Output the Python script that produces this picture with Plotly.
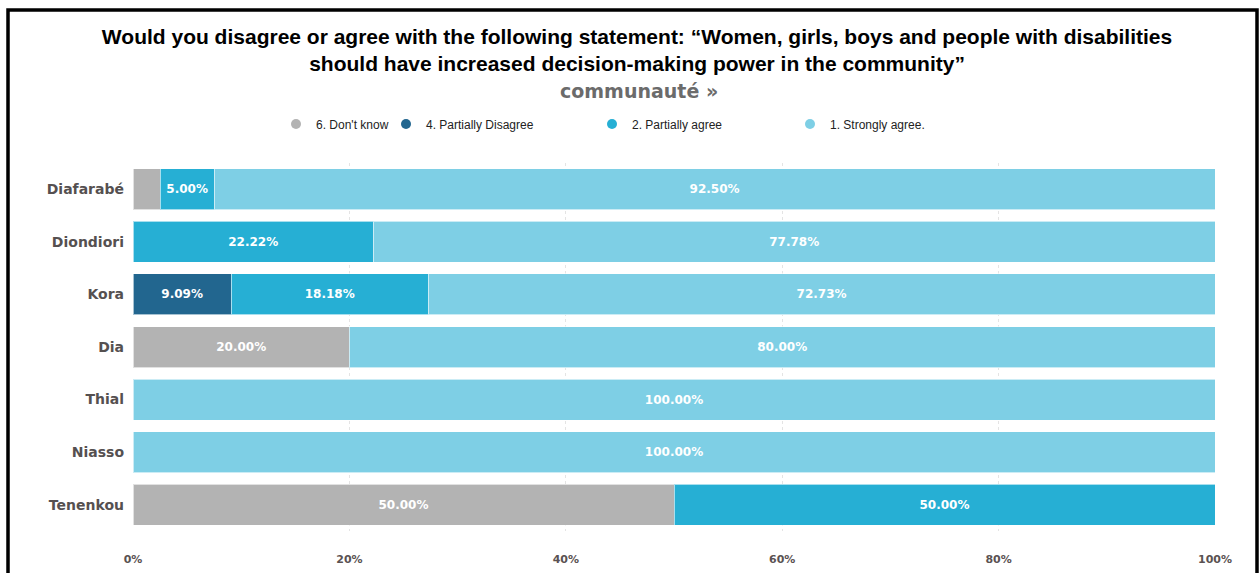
import plotly.graph_objects as go

# Survey results per community (percent of respondents)
communities = ["Diafarabé", "Diondiori", "Kora", "Dia", "Thial", "Niasso", "Tenenkou"]
dont_know = [2.5, 0, 0, 20.0, 0, 0, 50.0]
partially_disagree = [0, 0, 9.09, 0, 0, 0, 0]
partially_agree = [5.0, 22.22, 18.18, 0, 0, 0, 50.0]
strongly_agree = [92.5, 77.78, 72.73, 80.0, 100.0, 100.0, 0]

series = [
    ("6. Don't know", dont_know, "#b3b3b3"),
    ("4. Partially Disagree", partially_disagree, "#22668f"),
    ("2. Partially agree", partially_agree, "#26afd4"),
    ("1. Strongly agree.", strongly_agree, "#7ecfe5"),
]
x_ticks = [0, 20, 40, 60, 80, 100]
x_tick_labels = ["0%", "20%", "40%", "60%", "80%", "100%"]

W, H = 1259, 573
L, R, T, B = 133, 44, 163, 42
pw, ph = W - L - R, H - T - B

# left edge of each legend entry, in pixels
legend_left_px = [276, 386, 592, 790]


def px_to_paper_x(px):
    return (px - L) / pw


def px_to_paper_y(py):
    return (H - B - py) / ph


fig = go.Figure()

for i, (name, vals, color) in enumerate(series):
    labels = [f"{v:.2f}%" if v >= 4 else "" for v in vals]
    fig.add_trace(go.Bar(
        y=communities, x=vals, orientation="h", name=name,
        marker=dict(color=color, line=dict(color="rgba(255,255,255,0.6)", width=1)),
        text=labels, textposition="inside", insidetextanchor="middle",
        textangle=0, constraintext="none",
        textfont=dict(family="DejaVu Sans", size=12, color="white", weight="bold"),
        showlegend=False, hoverinfo="skip",
    ))
    # round legend marker, kept on a hidden pair of axes
    leg = "legend" if i == 0 else f"legend{i + 1}"
    fig.add_trace(go.Scatter(
        x=[None], y=[None], mode="markers", name=name,
        marker=dict(color=color, size=10, symbol="circle"),
        legend=leg, showlegend=True, xaxis="x2", yaxis="y2",
    ))

legend_common = dict(
    xref="container", yref="container", yanchor="middle",
    font=dict(family="Liberation Sans", size=12, color="#222"),
    bgcolor="rgba(0,0,0,0)", itemwidth=30,
)
layout_legends = {}
for i, lx in enumerate(legend_left_px):
    key = "legend" if i == 0 else f"legend{i + 1}"
    layout_legends[key] = dict(legend_common, x=lx / W, y=1 - 124 / H, xanchor="left")

fig.update_layout(
    width=W, height=H,
    margin=dict(l=L, r=R, t=T, b=B, autoexpand=False),
    paper_bgcolor="white", plot_bgcolor="white",
    barmode="stack", bargap=0.22,
    title=dict(
        text="Would you disagree or agree with the following statement: “Women, girls, boys and people with disabilities<br>should have increased decision-making power in the community”",
        x=0.506, xref="container", xanchor="center",
        y=1 - 44 / H, yref="container", yanchor="middle",
        font=dict(family="Liberation Sans", size=21, color="black", weight="bold"),
    ),
    annotations=[dict(
        text="communauté »", xref="paper", yref="paper",
        x=px_to_paper_x(639), y=px_to_paper_y(91),
        xanchor="center", yanchor="middle", showarrow=False,
        font=dict(family="DejaVu Sans", size=19, color="#6b6b6b", weight="bold"),
    )],
    shapes=[dict(
        type="rect", xref="paper", yref="paper",
        x0=px_to_paper_x(8), x1=px_to_paper_x(1257),
        y0=px_to_paper_y(600), y1=px_to_paper_y(10),
        line=dict(color="black", width=3.5), fillcolor="rgba(0,0,0,0)",
        layer="above",
    )],
    xaxis=dict(
        range=[0, 100], tickvals=x_ticks, ticktext=x_tick_labels,
        showgrid=True, gridcolor="#e4e4e4", griddash="dot", gridwidth=1,
        zeroline=False, showline=False, ticks="",
        ticklabelstandoff=20,
        tickfont=dict(family="DejaVu Sans", size=11, color="#5a5252", weight="bold"),
    ),
    yaxis=dict(
        autorange="reversed", showgrid=False, zeroline=False, showline=False,
        ticks="", ticklabelstandoff=8,
        tickfont=dict(family="DejaVu Sans", size=14, color="#555050", weight="bold"),
    ),
    xaxis2=dict(visible=False, overlaying="x", range=[0, 1]),
    yaxis2=dict(visible=False, overlaying="y", range=[0, 1]),
    **layout_legends,
)

fig.write_html("out.html")
